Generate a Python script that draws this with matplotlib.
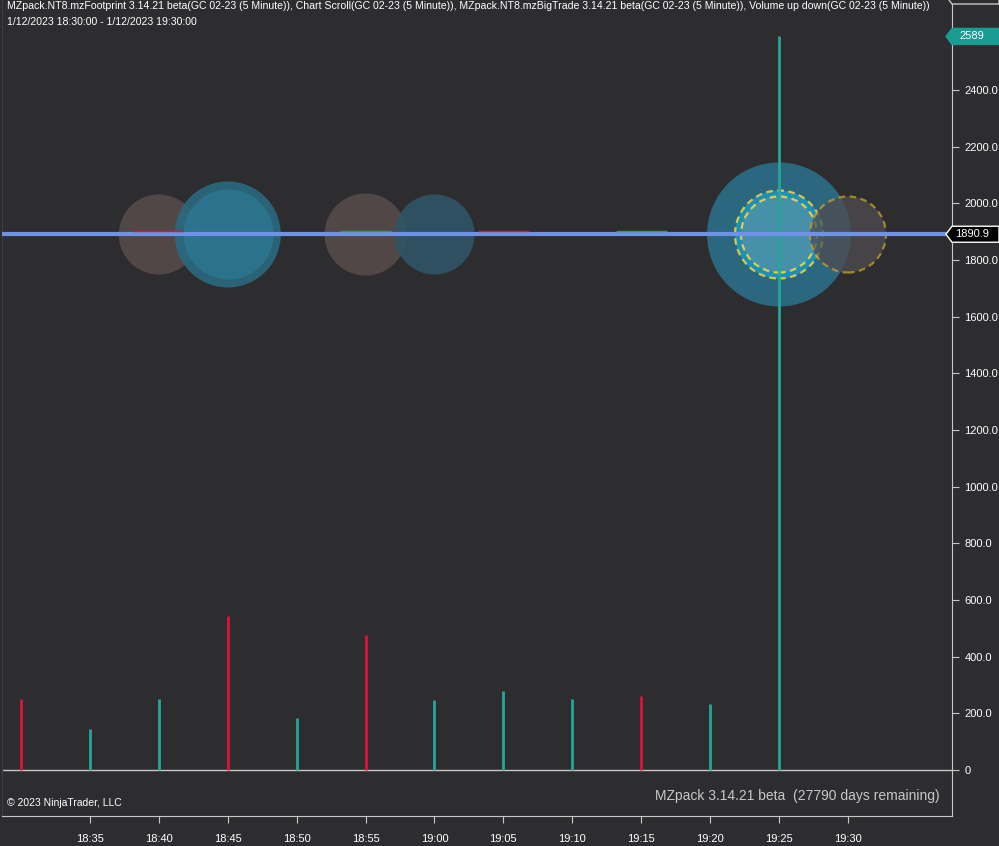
import matplotlib
matplotlib.use("Agg")
from matplotlib import pyplot as plt
from matplotlib.patches import Polygon

# Colors
BG = "#2d2d30"
FG = "#ffffff"
AXIS = "#c8c8c8"
UP = "#26a69a"
DOWN = "#dc143c"
PRICE_LINE = "#6f92e6"

# Volume up/down bars (5 minute)
times = ["18:30", "18:35", "18:40", "18:45", "18:50", "18:55", "19:00",
         "19:05", "19:10", "19:15", "19:20", "19:25", "19:30"]
volume = [250, 145, 250, 545, 183, 476, 247, 279, 250, 261, 233, 2589]
vol_up = [False, True, True, False, True, False, True, True, True, False, True, True]

# Big trade bubbles: bar index, price, radius (px)
grey_bubble_bar = [2, 5]
grey_bubble_price = [1890, 1890]
grey_bubble_r = [40, 41]

blue_bubble_bar = [3, 6, 11]
blue_bubble_price = [1890, 1890, 1890]
blue_bubble_r = [53, 40, 72]
blue_bubble_col = ["#2a6a80", "#2f5566", "#2b6e88"]

# footprint dashes at the price level
dash_bar = [2, 5, 7, 9]
dash_price = [1904, 1904, 1904, 1904]
dash_up = [False, True, False, True]

last_price = 1890.9
tick_times = times[1:]
y_ticks = [0, 200, 400, 600, 800, 1000, 1200, 1400, 1600, 1800, 2000, 2200, 2400]


def size(r):
    # radius in pixels -> scatter size in pt^2 (dpi 100)
    return (2 * r * 0.72) ** 2


def label(fig, y_disp, txt, face, edge, tcol):
    x0, x1, h = 946, 999, 8
    pts = [(x0, y_disp), (x0 + 6, y_disp + h), (x1, y_disp + h),
           (x1, y_disp - h), (x0 + 6, y_disp - h)]
    fig.add_artist(Polygon(pts, closed=True, transform=None, facecolor=face,
                           edgecolor=edge, linewidth=1, zorder=10))
    fig.text(972 / 999, y_disp / 846, txt, color=tcol, fontsize=8,
             ha="center", va="center", family="Liberation Sans", zorder=11)


fig = plt.figure(figsize=(9.99, 8.46), dpi=100, facecolor=BG)
ax = fig.add_axes([2 / 999, 30 / 846, 950 / 999, 816 / 846], facecolor=BG)

x = list(range(len(times)))
ax.set_xlim(-0.276, 13.51)
ax.set_ylim(-162.4, 2717.6)

# zero line
ax.axhline(0, color=AXIS, lw=1, zorder=1)

# bubbles
ax.scatter(grey_bubble_bar, grey_bubble_price, s=[size(r) for r in grey_bubble_r],
           color="#6a5a57", alpha=0.6, linewidths=0, zorder=2)
ax.scatter(blue_bubble_bar, blue_bubble_price, s=[size(r) for r in blue_bubble_r],
           color=blue_bubble_col, alpha=0.9, linewidths=0, zorder=2)
ax.scatter([3], [1890], s=size(45), color="#2c7892", alpha=0.8, linewidths=0, zorder=2)
# 19:25 big trade rings
ax.scatter([11], [1890], s=size(44), color="#1f8fb8", linewidths=1.6,
           edgecolors="#d8c84a", linestyles=(0, (3, 2)), zorder=3)
ax.scatter([11], [1890], s=size(38), color="#4790aa", linewidths=1.6,
           edgecolors="#d8d04a", linestyles=(0, (3, 2)), zorder=3)
# 19:30 bubble
ax.scatter([12], [1890], s=size(38), color="#504c50", alpha=0.75, linewidths=1.6,
           edgecolors="#c9a02a", linestyles=(0, (3, 2)), zorder=4)

# footprint dashes
for b, p, up in zip(dash_bar, dash_price, dash_up):
    ax.hlines(p, b - 0.37, b + 0.37, color="#3a9a4a" if up else DOWN, lw=1, zorder=7)

# volume bars
ax.vlines(x[:len(volume)], 0, volume,
          colors=[UP if u else DOWN for u in vol_up], lw=2, zorder=5)

# last price line
ax.axhline(last_price, color=PRICE_LINE, lw=3, zorder=6)

# axes styling
ax.spines["top"].set_visible(False)
ax.spines["left"].set_color("#3e3e42")
ax.spines["right"].set_color(AXIS)
ax.spines["bottom"].set_color(AXIS)
ax.yaxis.tick_right()
ax.set_yticks(y_ticks)
ax.set_yticklabels(["0"] + [f"{v:.1f}" for v in y_ticks[1:]])
ax.set_xticks(x[1:])
ax.set_xticklabels(tick_times)
ax.tick_params(axis="both", colors=AXIS, labelcolor=FG, labelsize=8, length=5,
               direction="out")
ax.tick_params(axis="x", pad=8)
ax.tick_params(axis="y", pad=4)
for t in ax.get_xticklabels() + ax.get_yticklabels():
    t.set_family("Liberation Sans")

# texts
fig.text(7 / 999, 1 - 6 / 846,
         "MZpack.NT8.mzFootprint 3.14.21 beta(GC 02-23 (5 Minute)), Chart Scroll(GC 02-23 (5 Minute)), "
         "MZpack.NT8.mzBigTrade 3.14.21 beta(GC 02-23 (5 Minute)), Volume up down(GC 02-23 (5 Minute))",
         color=FG, fontsize=7.6, va="center", family="Liberation Sans")
fig.text(7 / 999, 1 - 22 / 846, "1/12/2023 18:30:00 - 1/12/2023 19:30:00",
         color=FG, fontsize=7.6, va="center", family="Liberation Sans")
fig.text(7 / 999, 1 - 803 / 846, "\u00a9 2023 NinjaTrader, LLC",
         color=FG, fontsize=7.5, va="center", family="Liberation Sans")
fig.text(940 / 999, 1 - 796 / 846, "MZpack 3.14.21 beta  (27790 days remaining)",
         color="#c8c8c8", fontsize=10, ha="right", va="center", family="Liberation Sans")

# price markers on the right axis
fig.canvas.draw()
y_last = ax.transData.transform((0, last_price))[1]
y_vol = ax.transData.transform((0, volume[-1]))[1]
label(fig, y_vol, str(volume[-1]), "#1a9c94", "#1a9c94", FG)
label(fig, y_last, f"{last_price:.1f}", "#000000", FG, FG)
# clipped marker at the very top
fig.add_artist(Polygon([(946, 846 + 4), (952, 846 - 4), (999, 846 - 4), (999, 860), (952, 860)],
                       closed=True, transform=None, facecolor=BG, edgecolor=AXIS, lw=1))

fig.savefig("out.png", dpi=100, facecolor=BG)
